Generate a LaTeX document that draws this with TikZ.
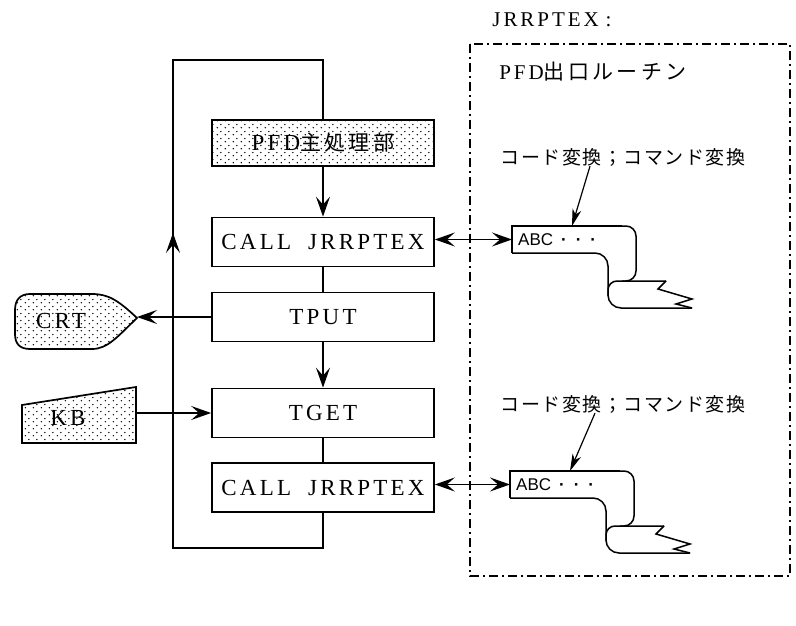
\documentclass[tikz,border=0pt]{standalone}
\usepackage{fontspec}
\setmainfont{Liberation Serif}
\newfontfamily\wideserif[LetterSpace=14]{Liberation Serif}
\newfontfamily\jpwide[LetterSpace=16]{Noto Sans CJK JP}
\newfontfamily\jplabel[LetterSpace=8]{Noto Sans CJK JP}
\newfontfamily\tapefont{Liberation Sans}
\usetikzlibrary{arrows.meta,patterns.meta,decorations.markings}

\tikzdeclarepattern{
  name=sparsedots,
  type=uncolored,
  bottom left={(0pt,0pt)},
  top right={(8pt,7pt)},
  tile size={(8pt,7pt)},
  code={
    \fill (1.5pt,1.5pt) circle[radius=0.85pt];
    \fill (5.5pt,5pt) circle[radius=0.85pt];
  }
}

\tikzset{
  proc/.style={draw, line width=1.7pt, minimum width=222pt, minimum height=49pt,
    inner sep=0pt, font=\wideserif\fontsize{23}{26}\selectfont},
  flow/.style={line width=1.8pt},
  outline/.style={line width=1.7pt},
  rollline/.style={line width=1.5pt},
  serifname/.style={font=\wideserif\fontsize{23}{26}\selectfont, inner sep=0pt},
  jplab/.style={font=\jplabel\fontsize{19}{22}\selectfont, inner sep=0pt},
  tapetext/.style={font=\tapefont\fontsize{17}{20}\selectfont, inner sep=0pt},
  bigtip/.tip={Stealth[length=20pt,width=14pt,inset=8pt]},
  thintip/.tip={Stealth[length=17pt,width=9pt,inset=5pt]},
  labarrow/.style={line width=1.2pt, -thintip},
  one/.style={flow, -bigtip},
  both/.style={flow, bigtip-bigtip}
}

% paper tape rolled at its end; #1 = prefix for its anchor coordinates
\newcommand\paperroll[1]{%
  \draw[rollline] (0,27) -- (0,0) -- (110,0);
  \draw[rollline,rounded corners=10pt] (100,0) -- (124,0) -- (124,55) -- (110,55);
  \draw[rollline,rounded corners=9pt] (96,70) -- (96,55) -- (154,55);
  \draw[rollline] (154,55) -- (146,63) -- (180,73) -- (164,78) -- (180,82);
  \draw[rollline,rounded corners=13pt] (180,82) -- (96,82) -- (96,27) -- (0,27);
  \coordinate (#1w) at (0,13.5);
  \coordinate (#1n) at (60,0);
  \node[tapetext,anchor=west] (#1t) at (6,14)
    {ABC\hspace{8pt}{\bfseries·}\hspace{9pt}{\bfseries·}\hspace{9pt}{\bfseries·}};
}

\begin{document}
\begin{tikzpicture}[x=1pt,y=-1pt]
\useasboundingbox (0,0) rectangle (796,626);
\fill[white] (0,0) rectangle (796,626);

% main processing column
\node[proc, pattern=sparsedots, minimum height=46pt] (main) at (323,143)
  {PFD{\jpwide\fontsize{21}{24}\selectfont 主処理部}};
\node[proc] (call1) at (323,242) {CALL\hspace{8pt} JRRPTEX};
\node[proc] (tput)  at (323,317) {TPUT};
\node[proc] (tget)  at (323,413) {TGET};
\node[proc] (call2) at (323,487.5) {CALL\hspace{8pt} JRRPTEX};

% return loop
\coordinate (loopA) at (323,548);
\coordinate (loopB) at (173,548);
\coordinate (loopC) at (173,60);
\coordinate (loopD) at (323,60);
\draw[flow, decoration={markings, mark=at position 0.567 with {\arrow{bigtip}}},
  postaction={decorate}]
  (call2.south) -- (loopA) -- (loopB) -- (loopC) -- (loopD) -- (main.north);

\draw[one] (main.south) -- (call1.north);
\draw[flow] (call1.south) -- (tput.north);
\draw[one] (tput.south) -- (tget.north);
\draw[flow] (tget.south) -- (call2.north);

% display terminal
\draw[outline, pattern=sparsedots] (137,318)
  .. controls (118,300) and (108,294) .. (92,294) -- (30,294)
  .. controls (20,294) and (15,300) .. (15,310) -- (15,334)
  .. controls (15,344) and (20,349) .. (30,349) -- (92,349)
  .. controls (108,349) and (118,336) .. (137,318) -- cycle;
\node[serifname] (crt) at (61,321) {CRT};
\coordinate (crttip) at (137,317);
\draw[one] (tput.west) -- (crttip);

% keyboard
\draw[outline, pattern=sparsedots] (22,405) -- (136,387) -- (136,443) -- (22,443) -- cycle;
\node[serifname] (kb) at (68,418) {KB};
\coordinate (kbr) at (136,413);
\draw[one] (kbr) -- (tget.west);

% exit routine frame
\draw[line width=1.1pt, dash pattern=on 9pt off 4pt on 2pt off 4pt]
  (470,44) rectangle (790,576);
\node[serifname, font=\wideserif\fontsize{21}{24}\selectfont] (title) at (552,20)
  {JRRPTEX\hspace{7pt}:};
\node[serifname, font=\wideserif\fontsize{21}{24}\selectfont] (sub) at (593,72)
  {PFD{\jpwide 出口ルーチン}};

% converted output tapes
\begin{scope}[shift={(512,226)}]
  \paperroll{pa}
\end{scope}
\begin{scope}[shift={(510,471)}]
  \paperroll{pb}
\end{scope}

\node[jplab] (lab1) at (623,157) {コード変換；コマンド変換};
\node[jplab] (lab2) at (623,404) {コード変換；コマンド変換};
\draw[labarrow] ([xshift=-33pt]lab1.south) -- (pan);
\draw[labarrow] ([xshift=-28pt]lab2.south) -- (pbn);

\draw[both] (call1.east |- paw) -- (paw);
\draw[both] (call2.east |- pbw) -- (pbw);
\end{tikzpicture}
\end{document}
